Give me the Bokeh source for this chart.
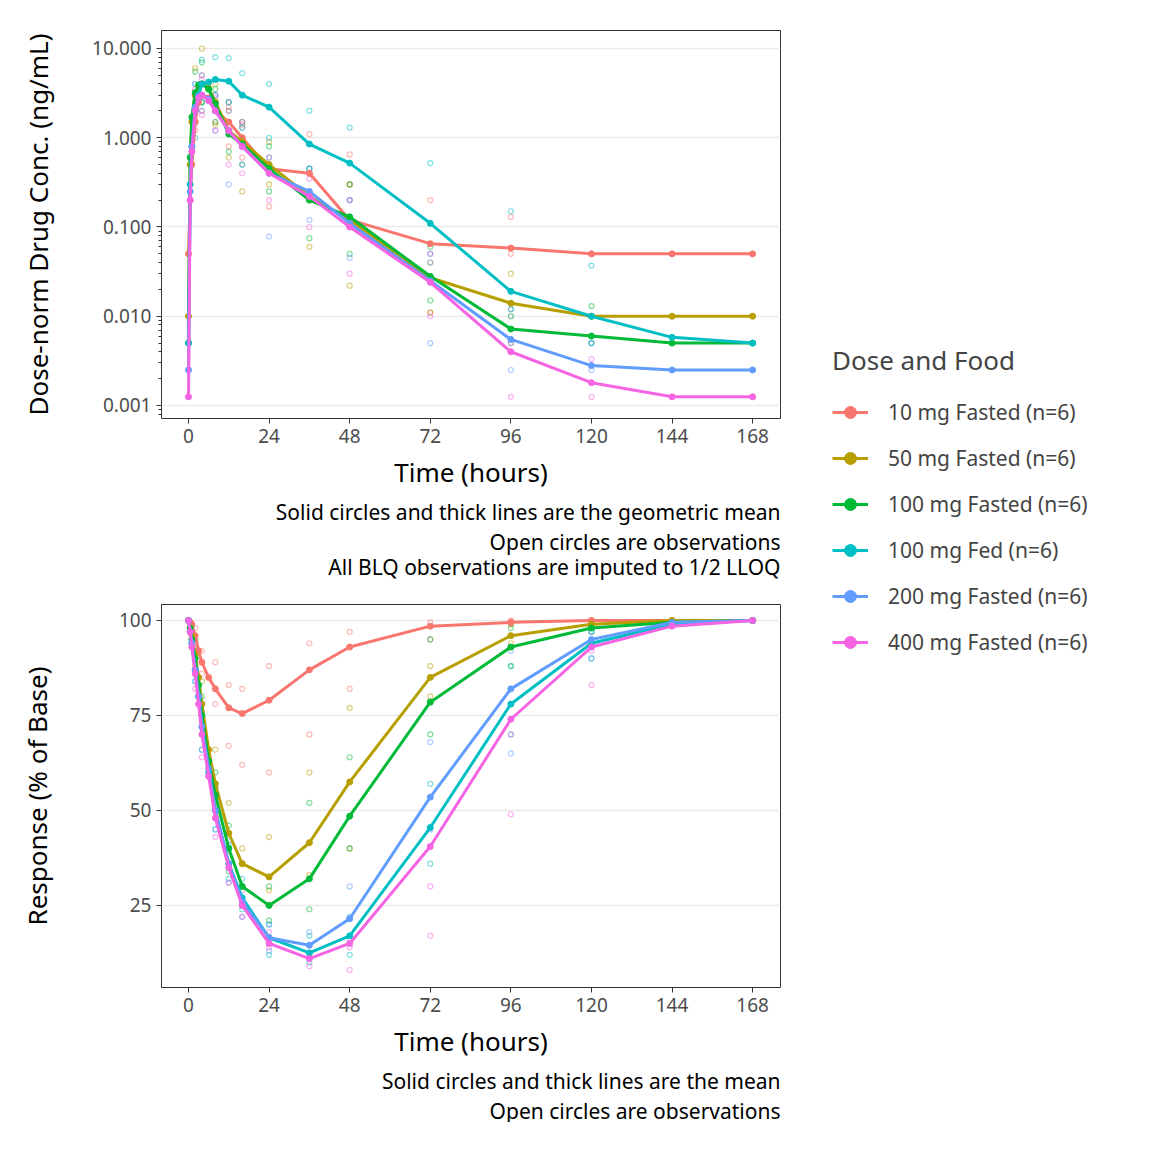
from bokeh.plotting import figure
from bokeh.layouts import row, column
from bokeh.models import (FixedTicker, CustomJSTickFormatter, Range1d, Legend, LegendItem, Title)
from bokeh.embed import file_html
from bokeh.resources import INLINE

FONT = "Noto Sans"
groups = ["10 mg Fasted (n=6)", "50 mg Fasted (n=6)", "100 mg Fasted (n=6)",
          "100 mg Fed (n=6)", "200 mg Fasted (n=6)", "400 mg Fasted (n=6)"]
colors = ["#F8766D", "#B79F00", "#00BA38", "#00BFC4", "#619CFF", "#F564E3"]

times = [0, 0.5, 1, 2, 3, 4, 6, 8, 12, 16, 24, 36, 48, 72, 96, 120, 144, 168]

conc_10 = [0.05, 0.2, 0.5, 1.5, 2.5, 3.0, 2.8, 2.0, 1.5, 1.0, 0.45, 0.4, 0.12, 0.065, 0.058, 0.05, 0.05, 0.05]
conc_50 = [0.01, 0.5, 1.5, 3.0, 3.8, 4.0, 3.6, 2.5, 1.2, 0.9, 0.5, 0.22, 0.12, 0.027, 0.014, 0.01, 0.01, 0.01]
conc_100 = [0.005, 0.6, 1.7, 3.2, 3.9, 4.0, 3.5, 2.4, 1.1, 0.85, 0.45, 0.2, 0.13, 0.028, 0.0072, 0.006, 0.005, 0.005]
conc_100fed = [0.005, 0.3, 0.8, 2.0, 3.0, 4.0, 4.2, 4.5, 4.3, 3.0, 2.2, 0.85, 0.52, 0.11, 0.019, 0.01, 0.0058, 0.005]
conc_200 = [0.0025, 0.25, 0.8, 2.2, 2.9, 3.0, 2.7, 2.0, 1.2, 0.8, 0.4, 0.25, 0.11, 0.025, 0.0055, 0.0028, 0.0025, 0.0025]
conc_400 = [0.00125, 0.2, 0.7, 2.0, 2.8, 3.0, 2.6, 2.0, 1.2, 0.8, 0.4, 0.22, 0.1, 0.024, 0.004, 0.0018, 0.00125, 0.00125]
conc_means = [conc_10, conc_50, conc_100, conc_100fed, conc_200, conc_400]

resp_10 = [100, 99.5, 99, 96, 92, 89, 85, 82, 77, 75.5, 79, 87, 93, 98.5, 99.5, 100, 100, 100]
resp_50 = [100, 98, 96, 91, 85, 78, 66, 57, 44, 36, 32.5, 41.5, 57.5, 85, 96, 99, 100, 100]
resp_100 = [100, 98, 95, 90, 83, 75, 63, 54, 40, 30, 25, 32, 48.5, 78.5, 93, 98, 99.5, 100]
resp_100fed = [100, 97, 94, 87, 80, 72, 60, 50, 36, 27, 16.5, 12.5, 17, 45.5, 78, 94, 99, 100]
resp_200 = [100, 97, 94, 87, 80, 72, 61, 50, 36, 26, 16.5, 14.5, 21.5, 53.5, 82, 95, 99.5, 100]
resp_400 = [100, 97, 93, 86, 78, 70, 59, 48, 35, 25, 15, 11, 15, 40.5, 74, 93, 98.5, 100]
resp_means = [resp_10, resp_50, resp_100, resp_100fed, resp_200, resp_400]

obs_times = [2, 4, 8, 12, 16, 24, 36, 48, 72, 96, 120]
obs_conc_10 = [[1.2, 2.5], [2.0, 5.0], [1.5, 3.0], [0.8, 2.2], [0.6, 1.4], [0.17, 0.6], [0.2, 1.1], [0.3, 0.65], [0.2, 0.011], [0.13, 0.05], [0.05, 0.05]]
obs_conc_50 = [[2.0, 6.0], [2.5, 10.0], [1.4, 4.0], [0.6, 2.5], [0.25, 1.5], [0.3, 0.9], [0.06, 0.4], [0.022, 0.3], [0.011, 0.04], [0.01, 0.03], [0.01, 0.01]]
obs_conc_100 = [[2.0, 5.5], [2.5, 7.0], [1.5, 3.5], [0.7, 2.0], [0.5, 1.3], [0.25, 0.8], [0.075, 0.45], [0.05, 0.3], [0.015, 0.06], [0.005, 0.012], [0.005, 0.013]]
obs_conc_100fed = [[1.0, 4.0], [2.5, 7.5], [3.0, 8.0], [2.5, 7.8], [1.5, 5.3], [1.0, 4.0], [0.45, 2.0], [0.2, 1.3], [0.05, 0.52], [0.01, 0.15], [0.005, 0.037]]
obs_conc_200 = [[1.5, 4.0], [2.0, 5.0], [1.2, 3.0], [0.3, 2.5], [0.5, 1.3], [0.078, 0.6], [0.12, 0.45], [0.045, 0.2], [0.005, 0.04], [0.0025, 0.012], [0.0025, 0.005]]
obs_conc_400 = [[1.5, 3.5], [1.8, 4.5], [1.2, 2.8], [0.5, 2.0], [0.4, 1.5], [0.2, 0.5], [0.1, 0.35], [0.03, 0.2], [0.01, 0.05], [0.00125, 0.005], [0.00125, 0.0033]]
obs_conc = [obs_conc_10, obs_conc_50, obs_conc_100, obs_conc_100fed, obs_conc_200, obs_conc_400]

obs_resp_10 = [[94, 98], [86, 92], [78, 89], [67, 83], [62, 82], [60, 88], [70, 94], [82, 97], [95, 99.5], [99, 100], [99.5, 100]]
obs_resp_50 = [[88, 95], [72, 84], [50, 66], [38, 52], [30, 40], [29, 43], [33, 60], [40, 77], [80, 88], [94, 99], [98, 100]]
obs_resp_100 = [[86, 94], [70, 80], [48, 60], [34, 46], [25, 36], [21, 30], [24, 52], [40, 64], [70, 95], [88, 98], [97, 99.5]]
obs_resp_100fed = [[84, 92], [66, 78], [45, 56], [32, 41], [24, 32], [12, 20], [10, 17], [12, 22], [36, 57], [70, 88], [90, 97]]
obs_resp_200 = [[84, 92], [66, 78], [45, 56], [31, 42], [22, 30], [13, 20], [11, 18], [16, 30], [45, 68], [65, 92], [90, 97]]
obs_resp_400 = [[82, 90], [64, 76], [43, 54], [31, 40], [22, 29], [14, 18], [9, 12], [8, 14], [17, 30], [49, 70], [83, 92]]
obs_resp = [obs_resp_10, obs_resp_50, obs_resp_100, obs_resp_100fed, obs_resp_200, obs_resp_400]

x_ticks = [0, 24, 48, 72, 96, 120, 144, 168]


def style(p):
    p.toolbar_location = None
    p.outline_line_color = "#333333"
    p.outline_line_width = 1
    p.xgrid.visible = False
    p.ygrid.grid_line_color = "#EBEBEB"
    p.ygrid.grid_line_width = 1.5
    p.ygrid.minor_grid_line_color = None
    for ax in (p.xaxis[0], p.yaxis[0]):
        ax.axis_line_color = None
        ax.major_tick_line_color = "#333333"
        ax.major_tick_in = 0
        ax.major_tick_out = 5
        ax.major_label_text_font = FONT
        ax.major_label_text_font_size = "19px"
        ax.major_label_text_color = "#4D4D4D"
        ax.axis_label_text_font = FONT
        ax.axis_label_text_font_size = "26px"
        ax.axis_label_text_font_style = "normal"
        ax.axis_label_text_color = "black"
    p.xaxis.minor_tick_line_color = None
    p.xaxis.ticker = FixedTicker(ticks=x_ticks)
    p.xaxis.axis_label = "Time (hours)"
    p.xaxis.axis_label_standoff = 8


def add_captions(p, lines):
    for i, ln in enumerate(lines):
        t = Title(text=ln, align="right", text_font=FONT, text_font_size="21px",
                  text_font_style="normal", text_color="black",
                  standoff=(6 if i == 0 else -5), text_line_height=1.0)
        p.add_layout(t, "below")


def draw(p, means, obs):
    for g in range(6):
        c = colors[g]
        xs, ys = [], []
        for i, t in enumerate(obs_times):
            for v in obs[g][i]:
                xs.append(t)
                ys.append(v)
        p.scatter(xs, ys, size=5, fill_color=None, line_color=c, line_alpha=0.5, line_width=1.2)
    for g in range(6):
        c = colors[g]
        p.line(times, means[g], line_color=c, line_width=3)
        p.scatter(times, means[g], size=6, fill_color=c, line_color=c)


p1 = figure(output_backend="svg", toolbar_location=None, y_axis_type="log",
            frame_width=619, frame_height=388, min_border_left=161, min_border_top=30,
            min_border_right=10, min_border_bottom=176,
            x_range=Range1d(-8.04, 176.3), y_range=Range1d(0.000715, 15.9))
style(p1)
p1.yaxis.axis_label = "Dose-norm Drug Conc. (ng/mL)"
p1.yaxis.axis_label_standoff = 33
minors = [m * 10 ** e for e in range(-4, 2) for m in range(2, 10)]
p1.yaxis.ticker = FixedTicker(ticks=[0.001, 0.01, 0.1, 1, 10], minor_ticks=minors)
p1.yaxis.minor_tick_line_color = "#333333"
p1.yaxis.minor_tick_in = 0
p1.yaxis.minor_tick_out = 3
p1.yaxis.formatter = CustomJSTickFormatter(code="return tick.toFixed(3);")
draw(p1, conc_means, obs_conc)
add_captions(p1, ["Solid circles and thick lines are the geometric mean",
                  "Open circles are observations",
                  "All BLQ observations are imputed to 1/2 LLOQ"])

p2 = figure(output_backend="svg", toolbar_location=None,
            frame_width=619, frame_height=383, min_border_left=161, min_border_top=10,
            min_border_right=10, min_border_bottom=100,
            x_range=Range1d(-8.04, 176.3), y_range=Range1d(3.4, 104.2))
style(p2)
p2.yaxis.axis_label = "Response (% of Base)"
p2.yaxis.axis_label_standoff = 61
p2.yaxis.ticker = FixedTicker(ticks=[25, 50, 75, 100])
p2.yaxis.minor_tick_line_color = None
draw(p2, resp_means, obs_resp)
add_captions(p2, ["Solid circles and thick lines are the mean",
                  "Open circles are observations"])

pl = figure(output_backend="svg", toolbar_location=None, frame_width=340, frame_height=1100,
            min_border=0, x_range=Range1d(0, 1), y_range=Range1d(0, 1))
pl.outline_line_color = None
pl.axis.visible = False
pl.grid.visible = False
items = []
for g in range(6):
    r1 = pl.line([-10, -9], [-10, -9], line_color=colors[g], line_width=3)
    r2 = pl.scatter([-10], [-10], size=6, fill_color=colors[g], line_color=colors[g])
    items.append(LegendItem(label=groups[g], renderers=[r1, r2]))
leg = Legend(items=items, location=(42, 443), title="Dose and Food",
             title_text_font=FONT, title_text_font_size="26px", title_text_font_style="normal",
             label_text_font=FONT, label_text_font_size="21px",
             glyph_width=36, glyph_height=30, spacing=16, label_standoff=20,
             border_line_color=None, background_fill_alpha=0, title_standoff=19)
pl.add_layout(leg, "center")

layout = row(column(p1, p2), pl)
open("out.html", "w").write(file_html(layout, INLINE))
